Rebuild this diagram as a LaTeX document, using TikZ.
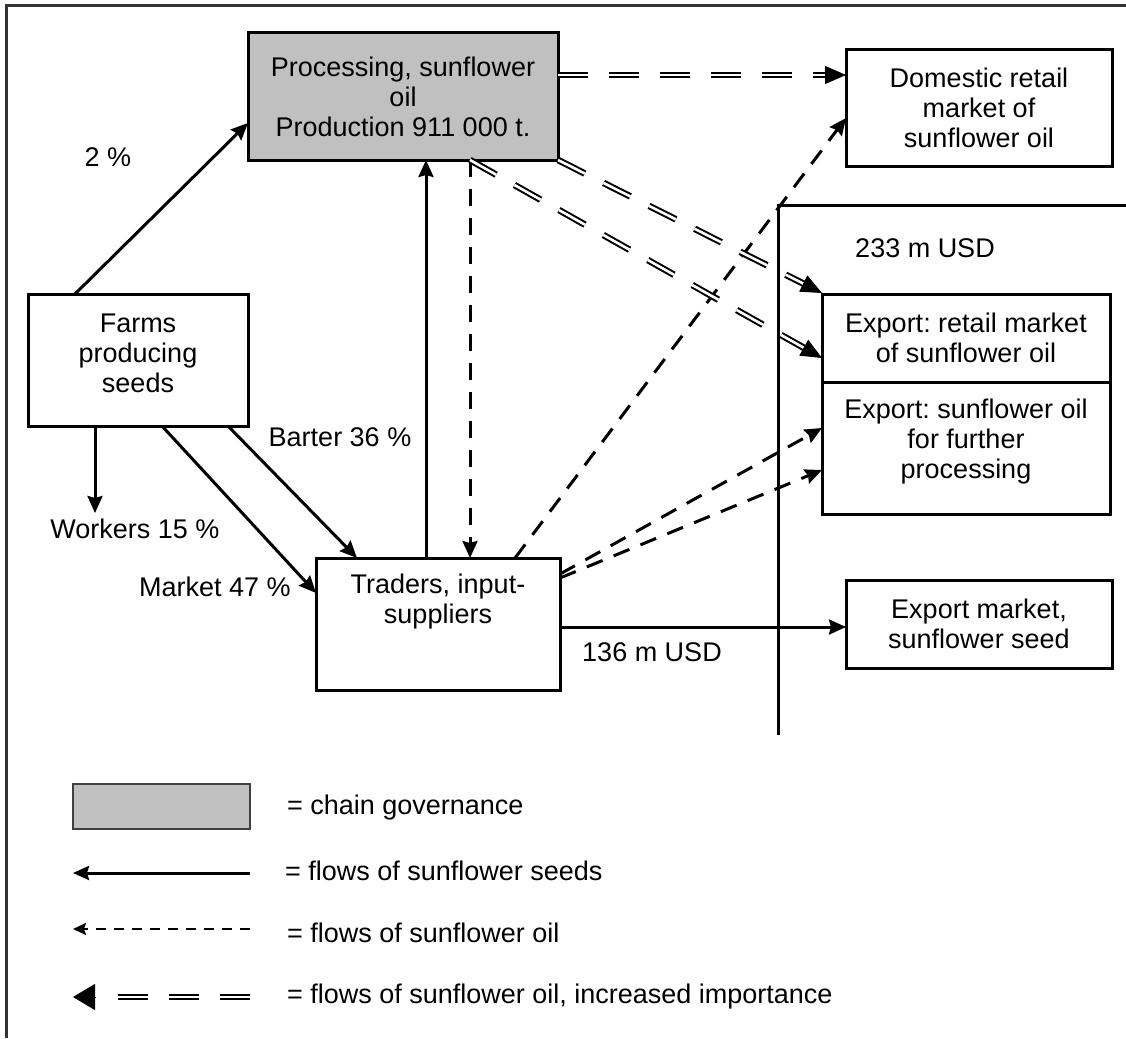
\documentclass[tikz,border=0pt]{standalone}
\usepackage{fontspec}
\setmainfont{Liberation Sans}
\usetikzlibrary{arrows.meta,calc}
\definecolor{govgray}{HTML}{C0C0C0}
\frenchspacing
\begin{document}
\begin{tikzpicture}[x=1pt,y=-1pt,
  font=\fontsize{27}{30}\selectfont,
  box/.style={draw, line width=3pt, inner sep=0pt, outer sep=0pt, align=center, fill=white},
  govbox/.style={box, fill=govgray},
  lbl/.style={inner sep=0pt, outer sep=0pt},
  seedflow/.style={line width=3pt, -{Stealth[length=17pt,width=15pt,inset=2pt]}},
  oilflow/.style={line width=3pt, dash pattern=on 17pt off 12pt, -{Stealth[length=17pt,width=15pt,inset=2pt]}},
  oilmain/.style={line width=2pt, double=white, double distance=2.6pt, dash pattern=on 30pt off 21pt},
  oiltip/.style={line width=1pt, -{Triangle[length=21pt,width=18pt]}},
]
\useasboundingbox (0,0) rectangle (1126,1038);

% outer frame
\draw[line width=3pt, black!80] (6,1038) -- (6,6) -- (1126,6);

% export border
\draw[line width=3pt] (778,735) -- (778,205) -- (1126,205);

% boxes
\node[govbox, minimum width=310pt, minimum height=127pt] (proc) at (403,96.5)
  {Processing, sunflower\\oil\\Production 911 000 t.};
\node[box, minimum width=266pt, minimum height=116pt] (dom) at (979,108)
  {Domestic retail\\market of\\sunflower oil};
\node[box, minimum width=220pt, minimum height=132pt] (farm) at (138,360) {};
\node[lbl, align=center] (farmtext) at (138,353) {Farms\\producing\\seeds};
\node[box, minimum width=244pt, minimum height=132pt] (trad) at (438,624) {};
\node[lbl, align=center] (tradtext) at (438,602) {Traders, input-\\suppliers};
\node[box, minimum width=288pt, minimum height=88pt] (exr) at (966,338)
  {Export: retail market\\of sunflower oil};
\node[box, minimum width=288pt, minimum height=132pt] (exf) at (966,448) {};
\node[lbl, align=center] (exftext) at (966,442) {Export: sunflower oil\\for further\\processing};
\node[box, minimum width=266pt, minimum height=88pt] (exs) at (979,624)
  {Export market,\\sunflower seed};

\coordinate (wk) at (95,513);

% labels
\node[lbl] (l2) at (108,157) {2 \%};
\node[lbl] (l233) at (925,248) {233 m USD};
\node[lbl] (lbar) at (340,437) {Barter 36 \%};
\node[lbl] (lwork) at (135,529) {Workers 15 \%};
\node[lbl] (lmark) at (215,587) {Market 47 \%};
\node[lbl] (l136) at (652,652) {136 m USD};

% flows of sunflower seeds
\draw[seedflow] ($(farm.north west)+(47,0)$) -- ($(proc.north west)+(0,90)$);
\draw[seedflow] ($(farm.south west)+(67,0)$) -- (wk);
\draw[seedflow] ($(farm.south west)+(134,0)$) -- ($(trad.north west)+(0,35)$);
\draw[seedflow] ($(farm.south east)+(-20,0)$) -- ($(trad.north west)+(41,0)$);
\draw[seedflow] ($(trad.north west)+(110,0)$) -- ($(proc.south west)+(178,0)$);
\draw[seedflow] ($(trad.north east)+(0,69)$) -- ($(exs.north west)+(0,47)$);

% flows of sunflower oil
\draw[oilflow] ($(proc.south west)+(222,0)$) -- ($(trad.north west)+(154,0)$);
\draw[oilflow] ($(trad.north west)+(199,0)$) -- ($(dom.south west)+(0,-48)$);
\draw[oilflow] ($(trad.north east)+(0,16)$) -- ($(exf.north west)+(0,46)$);
\draw[oilflow] ($(trad.north east)+(0,20)$) -- ($(exf.north west)+(0,88)$);

% flows of sunflower oil, increased importance
\coordinate (d1s) at ($(proc.north east)+(0,42)$);
\coordinate (d1e) at ($(dom.north west)+(0,25)$);
\draw[oilmain, shorten >=19pt] (d1s) -- (d1e);
\draw[oiltip] ($(d1e)!21pt!(d1s)$) -- (d1e);

\coordinate (d2s) at (proc.south east);
\coordinate (d2e) at ($(exr.north west)+(0,-1)$);
\draw[oilmain, shorten >=19pt] (d2s) -- (d2e);
\draw[oiltip] ($(d2e)!21pt!(d2s)$) -- (d2e);

\coordinate (d3s) at ($(proc.south west)+(222,0)$);
\coordinate (d3e) at ($(exr.north west)+(0,64)$);
\draw[oilmain, shorten >=19pt] (d3s) -- (d3e);
\draw[oiltip] ($(d3e)!21pt!(d3s)$) -- (d3e);

% legend
\node[draw=black!75, line width=1.5pt, fill=govgray, inner sep=0pt,
  minimum width=177pt, minimum height=45pt] (leggov) at (161.5,806.5) {};
\node[lbl, anchor=west] (legt1) at (287,808) {= chain governance};

\coordinate (ls1) at (250,873);
\coordinate (le1) at (73,873);
\draw[seedflow, -{Stealth[length=16pt,width=14pt,inset=2pt]}] (ls1) -- (le1);
\node[lbl, anchor=west] (legt2) at (285,871) {= flows of sunflower seeds};

\coordinate (ls2) at (250,929);
\coordinate (le2) at (73,929);
\draw[oilflow, line width=2pt, dash pattern=on 10pt off 8pt,
  -{Stealth[length=13pt,width=12pt,inset=2pt]}] (ls2) -- (le2);
\node[lbl, anchor=west] (legt3) at (287,933) {= flows of sunflower oil};

\coordinate (ls3) at (250,997);
\coordinate (lm3) at (117,997);
\coordinate (lb3) at (95,997);
\coordinate (le3) at (73,997);
\draw[oilmain, line width=1.8pt, dash pattern=on 30pt off 21pt] (ls3) -- (lm3);
\draw[oiltip, -{Triangle[length=22pt,width=26pt]}] (lb3) -- (le3);
\node[lbl, anchor=west] (legt4) at (287,997) {= flows of sunflower oil, increased importance};
\end{tikzpicture}
\end{document}
